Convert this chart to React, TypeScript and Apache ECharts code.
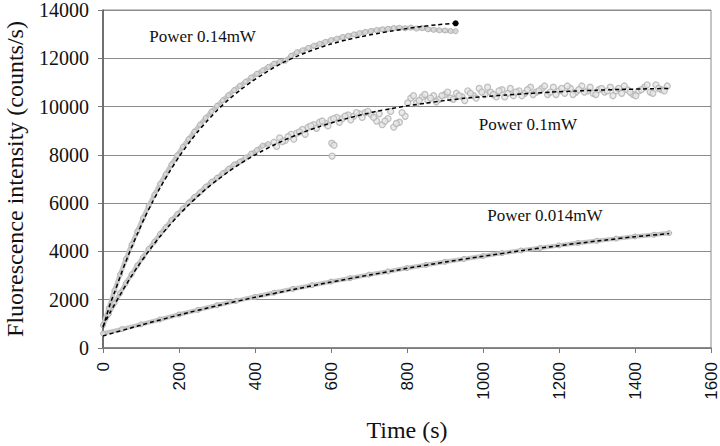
import React, { useEffect, useRef } from "react";
import * as echarts from "echarts";

// ---- Power 0.14 mW ----
const fitTime014 = [0, 10, 20, 30, 45, 60, 75, 90, 110, 130, 150, 175, 200, 225, 250, 275, 300, 330, 360, 390, 420, 450, 480, 510, 540, 570, 600, 640, 680, 720, 760, 800, 840, 880, 928];
const fitValue014 = [850, 1370, 1880, 2290, 2950, 3580, 4160, 4710, 5410, 6040, 6630, 7300, 7920, 8470, 8970, 9420, 9840, 10280, 10670, 11020, 11330, 11620, 11870, 12080, 12270, 12440, 12590, 12760, 12900, 13020, 13130, 13230, 13320, 13390, 13450];
const dataTime014 = [0, 15, 30, 45, 60, 75, 90, 105, 120, 135, 150, 165, 180, 195, 210, 225, 240, 255, 270, 285, 300, 315, 330, 345, 360, 375, 390, 405, 420, 435, 450, 465, 480, 495, 510, 525, 540, 555, 570, 585, 600, 615, 630, 645, 660, 675, 690, 705, 720, 735, 750, 765, 780, 795, 810, 825, 840, 855, 870, 885, 900, 915, 928];
const dataValue014 = [950, 1650, 2380, 3050, 3680, 4280, 4830, 5380, 5880, 6350, 6800, 7200, 7600, 7980, 8330, 8650, 8960, 9250, 9530, 9790, 10030, 10260, 10470, 10680, 10860, 11030, 11200, 11360, 11500, 11640, 11780, 11850, 11900, 12100, 12250, 12330, 12430, 12520, 12600, 12680, 12750, 12810, 12880, 12930, 12990, 13040, 13090, 13130, 13170, 13200, 13220, 13250, 13260, 13240, 13270, 13230, 13250, 13200, 13180, 13160, 13150, 13130, 13120];

// ---- Power 0.1 mW ----
const fitTime01 = [0, 10, 20, 30, 45, 60, 75, 90, 110, 130, 150, 175, 200, 225, 250, 275, 300, 330, 360, 390, 420, 450, 480, 510, 540, 570, 600, 640, 680, 720, 760, 800, 850, 900, 950, 1000, 1060, 1120, 1180, 1240, 1300, 1360, 1420, 1490];
const fitValue01 = [900, 1210, 1510, 1790, 2200, 2600, 2980, 3340, 3790, 4220, 4620, 5080, 5520, 5920, 6290, 6640, 6950, 7300, 7620, 7910, 8170, 8410, 8630, 8830, 9010, 9170, 9320, 9500, 9660, 9800, 9920, 10030, 10140, 10250, 10340, 10410, 10480, 10540, 10600, 10640, 10680, 10710, 10730, 10750];
// early, tightly packed readings
const dataTime01a = [0, 15, 30, 45, 60, 75, 90, 105, 120, 135, 150, 165, 180, 195, 210, 225, 240, 255, 270, 285, 300, 315, 330, 345, 360, 375, 390, 405, 420, 435];
const dataValue01a = [950, 1400, 1850, 2270, 2680, 3050, 3420, 3760, 4100, 4400, 4720, 5000, 5300, 5540, 5780, 6020, 6250, 6450, 6680, 6880, 7050, 7240, 7420, 7600, 7720, 7880, 8050, 8200, 8380, 8450];
// later, noisy readings (two interleaved sets)
const dataTime01b = [450, 465, 480, 495, 510, 525, 540, 555, 570, 585, 600, 615, 630, 645, 660, 675, 690, 705, 720, 735, 750, 765, 780, 795, 810, 825, 840, 855, 870, 885, 900, 915, 930, 945, 960, 975, 990, 1005, 1020, 1035, 1050, 1065, 1080, 1095, 1110, 1125, 1140, 1155, 1170, 1185, 1200, 1215, 1230, 1245, 1260, 1275, 1290, 1305, 1320, 1335, 1350, 1365, 1380, 1395, 1410, 1425, 1440, 1455, 1470, 1485];
const dataValue01b = [8520, 8700, 8600, 8850, 8900, 9050, 9150, 9250, 9350, 9300, 9450, 9550, 9500, 9650, 9600, 9700, 9750, 9680, 9400, 9250, 9500, 9150, 9350, 9600, 10350, 10150, 10400, 10250, 10450, 10300, 10500, 10350, 10550, 10400, 10650, 10450, 10750, 10500, 10600, 10400, 10700, 10550, 10450, 10650, 10550, 10800, 10600, 10750, 10500, 10800, 10650, 10550, 10750, 10600, 10850, 10650, 10550, 10700, 10600, 10800, 10650, 10550, 10700, 10500, 10650, 10800, 10600, 10900, 10700, 10850];
const dataTime01c = [457, 472, 487, 502, 517, 532, 547, 562, 577, 592, 607, 622, 637, 652, 667, 682, 697, 712, 727, 742, 757, 772, 787, 802, 817, 832, 847, 862, 877, 892, 907, 922, 937, 952, 967, 982, 997, 1012, 1027, 1042, 1057, 1072, 1087, 1102, 1117, 1132, 1147, 1162, 1177, 1192, 1207, 1222, 1237, 1252, 1267, 1282, 1297, 1312, 1327, 1342, 1357, 1372, 1387, 1402, 1417, 1432, 1447, 1462, 1477];
const dataValue01c = [8350, 8550, 8750, 8650, 8950, 8850, 9200, 9100, 9400, 9200, 9500, 9350, 9600, 9450, 9750, 9550, 9800, 9550, 9700, 9400, 9800, 9300, 9750, 10150, 10450, 10250, 10500, 10350, 10200, 10450, 10600, 10300, 10450, 10250, 10550, 10350, 10600, 10800, 10500, 10650, 10400, 10750, 10600, 10450, 10700, 10500, 10650, 10850, 10600, 10500, 10750, 10850, 10500, 10700, 10600, 10800, 10500, 10750, 10650, 10450, 10750, 10850, 10600, 10450, 10700, 10900, 10550, 10750, 10650];
const outlierTime01 = [602, 608, 603];
const outlierValue01 = [8480, 8400, 7950];

// ---- Power 0.014 mW ----
const fitTime0014 = [0, 100, 200, 300, 400, 500, 600, 700, 800, 900, 1000, 1100, 1200, 1300, 1400, 1490];
const fitValue0014 = [500, 950, 1370, 1750, 2100, 2420, 2730, 3020, 3300, 3560, 3800, 4030, 4240, 4430, 4610, 4740];
const dataTime0014 = [0, 50, 100, 150, 200, 250, 300, 350, 400, 450, 500, 550, 600, 650, 700, 750, 800, 850, 900, 950, 1000, 1050, 1100, 1150, 1200, 1250, 1300, 1350, 1400, 1450, 1490];
const dataValue0014 = [600, 780, 980, 1180, 1390, 1580, 1770, 1950, 2120, 2290, 2450, 2600, 2750, 2890, 3040, 3170, 3310, 3440, 3570, 3690, 3810, 3930, 4040, 4140, 4250, 4350, 4440, 4530, 4620, 4690, 4760];

// ---- in-plot labels ----
const labelTexts = ["Power 0.14mW", "Power 0.1mW", "Power 0.014mW"];
const labelTimes = [262, 1118, 1163];
const labelValues = [12919, 9275, 5500];

const xTicks = { min: 0, max: 1600, interval: 200 };
const yTicks = { min: 0, max: 14000, interval: 2000 };

const zip = (xs: number[], ys: number[]) => xs.map((x, i) => [x, ys[i]]);

const GRAY_LINE = "#c6c6c6";
const GRAY_PT = "#b2b2b2";

function dataSeries(name: string, xs: number[], ys: number[]) {
  return {
    name,
    type: "line",
    data: zip(xs, ys),
    symbol: "circle",
    symbolSize: 5,
    showSymbol: true,
    itemStyle: { color: "#d6d6d6", borderColor: GRAY_PT, borderWidth: 1 },
    lineStyle: { color: GRAY_LINE, width: 4.5 },
    z: 2,
  };
}

function scatterSeries(name: string, xs: number[], ys: number[]) {
  return {
    name,
    type: "scatter",
    data: zip(xs, ys),
    symbol: "circle",
    symbolSize: 6,
    itemStyle: { color: "#e6e6e6", borderColor: GRAY_PT, borderWidth: 1.3 },
    z: 2,
  };
}

function fitSeries(name: string, xs: number[], ys: number[], label: number, endDot: boolean) {
  const pts: any[] = zip(xs, ys);
  const data = pts.map((p, i) =>
    endDot && i === pts.length - 1
      ? { value: p, symbol: "circle", symbolSize: 6, itemStyle: { color: "#000" } }
      : { value: p, symbol: "none" }
  );
  return {
    name,
    type: "line",
    data,
    symbol: "none",
    showSymbol: true,
    smooth: 0.2,
    lineStyle: { color: "#000", width: 1.5, type: [4, 3] },
    z: 3,
    markPoint: {
      symbol: "circle",
      symbolSize: 1,
      itemStyle: { color: "rgba(0,0,0,0)" },
      label: {
        show: true,
        position: "inside",
        formatter: labelTexts[label],
        fontFamily: "Liberation Serif",
        fontSize: 17,
        color: "#111",
      },
      data: [{ coord: [labelTimes[label], labelValues[label]] }],
    },
  };
}

export default function App() {
  const ref = useRef<HTMLDivElement>(null);
  useEffect(() => {
    if (!ref.current) return;
    const chart = echarts.init(ref.current, null, { renderer: "svg" });
    chart.setOption({
      animation: false,
      backgroundColor: "#fff",
      grid: {
        left: 103, right: 9, top: 10, bottom: 98,
        show: true, borderColor: "#8a8a8a", borderWidth: 1,
        containLabel: false, outerBoundsMode: "none",
      },
      xAxis: {
        type: "value",
        ...xTicks,
        name: "Time (s)",
        nameLocation: "middle",
        nameGap: 70,
        nameTextStyle: { fontFamily: "Liberation Serif", fontSize: 24, color: "#111" },
        axisLine: { show: true, lineStyle: { color: "#777", width: 1.5 } },
        axisTick: { show: true, inside: false, length: 5, lineStyle: { color: "#777" } },
        axisLabel: { rotate: 90, margin: 14, fontFamily: "Liberation Sans", fontSize: 17, color: "#111", formatter: (v: number) => String(v) },
        splitLine: { show: false },
      },
      yAxis: {
        type: "value",
        ...yTicks,
        name: "Fluorescence intensity (counts/s)",
        nameLocation: "middle",
        nameRotate: 90,
        nameGap: 76,
        nameTextStyle: { fontFamily: "Liberation Serif", fontSize: 24, color: "#111" },
        axisLine: { show: true, lineStyle: { color: "#555", width: 1.5 } },
        axisTick: { show: true, inside: false, length: 5, lineStyle: { color: "#777" } },
        axisLabel: { margin: 14, fontFamily: "Liberation Serif", fontSize: 20, color: "#111", formatter: (v: number) => String(v) },
        splitLine: { show: true, lineStyle: { color: "#8c8c8c", width: 1 } },
      },
      series: [
        dataSeries("data 0.014", dataTime0014, dataValue0014),
        dataSeries("data 0.1 early", dataTime01a, dataValue01a),
        scatterSeries("data 0.1 late a", dataTime01b, dataValue01b),
        scatterSeries("data 0.1 late b", dataTime01c, dataValue01c),
        scatterSeries("outliers 0.1", outlierTime01, outlierValue01),
        dataSeries("data 0.14", dataTime014, dataValue014),
        fitSeries("fit 0.014", fitTime0014, fitValue0014, 2, false),
        fitSeries("fit 0.1", fitTime01, fitValue01, 1, false),
        fitSeries("fit 0.14", fitTime014, fitValue014, 0, true),
      ],
    });
    return () => chart.dispose();
  }, []);
  return (
    <div
      ref={ref}
      style={{ position: "fixed", left: 0, top: 0, width: 720, height: 446, background: "#fff" }}
    />
  );
}
